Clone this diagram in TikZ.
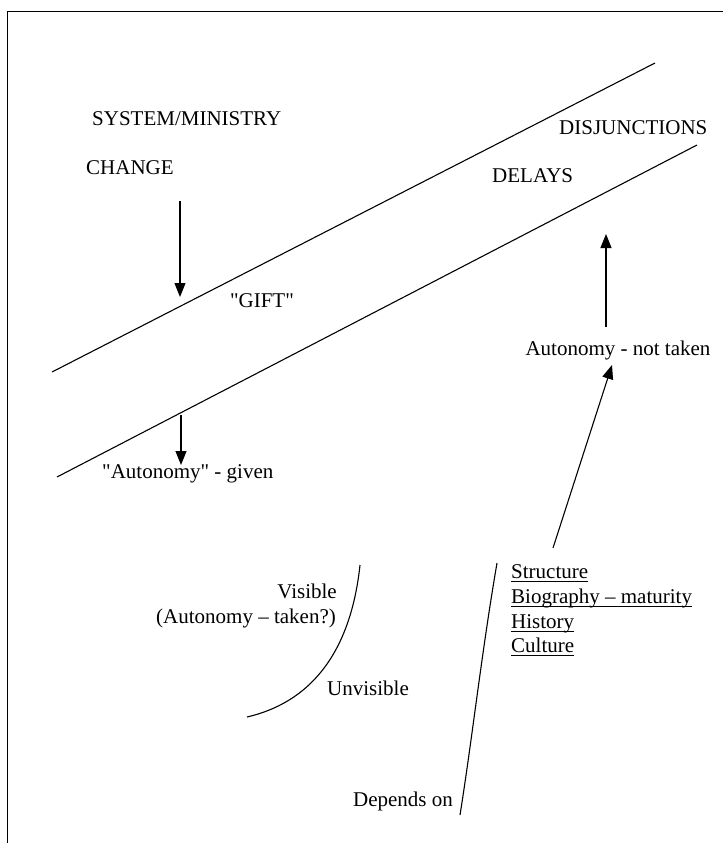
\documentclass[tikz,border=0pt]{standalone}
\usepackage{fontspec}
\setmainfont{Liberation Serif}
\usetikzlibrary{arrows.meta}
\begin{document}
\begin{tikzpicture}[x=1pt,y=-1pt,
  ln/.style={line width=1.1pt},
  arr/.style={line width=1.1pt,-{Triangle[length=14pt,width=11pt]}},
  lbl/.style={inner sep=0pt,font=\fontsize{21}{25}\selectfont},
  ul/.style={line width=1.4pt}]
\useasboundingbox (0,0) rectangle (723,843);
% frame
\coordinate (fl) at (7,843);
\coordinate (ft) at (7,12);
\coordinate (fr) at (723,12);
\draw[line width=1pt] (fl) -- (ft) -- (fr);
% diagonals
\coordinate (u1) at (52,372);
\coordinate (u2) at (655,63);
\coordinate (l1) at (57,477);
\coordinate (l2) at (697,145);
\draw[ln] (u1) -- (u2);
\draw[ln] (l1) -- (l2);
% texts
\node[lbl,anchor=base west] (sys) at (92,125) {SYSTEM/MINISTRY};
\node[lbl,anchor=base west] (chg) at (86,174) {CHANGE};
\node[lbl,anchor=base west] (dis) at (559,134) {DISJUNCTIONS};
\node[lbl,anchor=base west] (del) at (492,182) {DELAYS};
\node[lbl,anchor=base] (gift) at (262,307) {\textquotedbl GIFT\textquotedbl};
\node[lbl,anchor=base west] (given) at (102,478) {\textquotedbl Autonomy\textquotedbl{} - given};
\node[lbl,anchor=base] (ntaken) at (618,355) {Autonomy - not taken};
\node[lbl,anchor=base east] (vis) at (337,598) {Visible};
\node[lbl,anchor=base east] (taken) at (336,623) {(Autonomy – taken?)};
\node[lbl,anchor=base west] (unv) at (327,695) {Unvisible};
\node[lbl,anchor=base west] (s1) at (511,578) {Structure};
\node[lbl,anchor=base west] (s2) at (511,603) {Biography – maturity};
\node[lbl,anchor=base west] (s3) at (511,628) {History};
\node[lbl,anchor=base west] (s4) at (511,652) {Culture};
\node[lbl,anchor=base] (dep) at (403,806) {Depends on};
\foreach \n in {s1,s2,s3,s4}
  \draw[ul] ([yshift=-3.5pt]\n.base west) -- ([yshift=-3.5pt]\n.base east);
% arrows
\coordinate (a1s) at (180,201);
\coordinate (a1e) at (180,297);
\draw[arr] (a1s) -- (a1e);
\coordinate (a2s) at (181,415);
\coordinate (a2e) at (181,465);
\draw[arr] (a2s) -- (a2e);
\coordinate (a3s) at (606,327);
\coordinate (a3e) at (606,234);
\draw[arr] (a3s) -- (a3e);
\coordinate (a4s) at (553,548);
\coordinate (a4e) at (612,365);
\draw[arr] (a4s) -- (a4e);
% curves
\coordinate (c1a) at (247,717);
\coordinate (c1b) at (360,565);
\draw[ln] (c1a) .. controls (320,700) and (352,640) .. (c1b);
\coordinate (c2a) at (460,815);
\coordinate (c2b) at (497,563);
\draw[ln] (c2a) .. controls (472,740) and (482,650) .. (c2b);
\end{tikzpicture}
\end{document}
